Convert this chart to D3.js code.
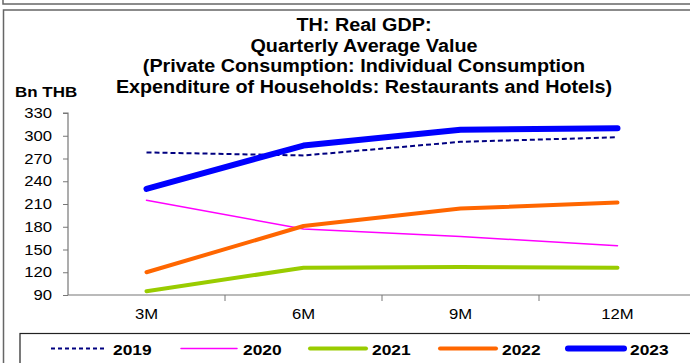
<!DOCTYPE html>
<html><head><meta charset="utf-8">
<script src="https://cdn.jsdelivr.net/npm/d3@7/dist/d3.min.js"></script>
<style>body{margin:0;background:#fff;}svg{display:block;font-family:"Liberation Sans",Arial,sans-serif;}</style>
</head><body>
<svg id="c" width="690" height="363"></svg>
<script>
const categories = ["3M","6M","9M","12M"];
const s2019 = [278, 274, 292, 298];
const s2020 = [215, 177, 167, 155];
const s2021 = [95, 126, 127, 126];
const s2022 = [120, 181, 204, 212];
const s2023 = [230, 287, 308, 310];
const yTicks = [90,120,150,180,210,240,270,300,330];
const titleLines = ["TH: Real GDP:","Quarterly Average Value","(Private Consumption: Individual Consumption","Expenditure of Households: Restaurants and Hotels)"];
const unitLabel = "Bn THB";

const series = [
  {name:"2019", values:s2019, color:"#000080", width:2, dash:"5,3"},
  {name:"2020", values:s2020, color:"#FF00FF", width:1.5, dash:null},
  {name:"2021", values:s2021, color:"#99CC00", width:4, dash:null},
  {name:"2022", values:s2022, color:"#FF6600", width:4, dash:null},
  {name:"2023", values:s2023, color:"#0000FF", width:6, dash:null}
];

const K = 1.15; // horizontal text stretch
function stretch(sel, k){
  sel.each(function(){
    const xa = this.getAttribute("x");
    const x = xa==null?0:+xa;
    this.setAttribute("x", x/k);
    this.setAttribute("transform", `scale(${k},1)`);
    d3.select(this).selectAll("tspan").each(function(){
      const tx = this.getAttribute("x");
      if(tx!=null) this.setAttribute("x", (+tx)/k);
    });
  });
}

const svg = d3.select("#c");
// frames
svg.append("rect").attr("x",3).attr("y",-10).attr("width",700).attr("height",14)
  .attr("fill","none").attr("stroke","#666").attr("stroke-width",1.5);
svg.append("rect").attr("x",3.5).attr("y",10).attr("width",700).attr("height",400)
  .attr("fill","none").attr("stroke","#666").attr("stroke-width",1.5);

const x0 = 68, plotTop = 113, plotBottom = 295, bw = 157;
const x = d3.scaleBand().domain(categories).range([x0, x0 + 4*bw]);
const y = d3.scaleLinear().domain([90,330]).range([plotBottom, plotTop]);

// title
const t = svg.append("text").attr("text-anchor","middle").attr("font-weight","bold").attr("font-size",17.5).attr("fill","#000");
titleLines.forEach((l,i)=>t.append("tspan").attr("x",364).attr("y",31+i*20.7).text(l));
stretch(t, 1.13);
const u = svg.append("text").attr("x",15).attr("y",97).attr("font-weight","bold").attr("font-size",15).text(unitLabel);
stretch(u, 1.13);

// y axis
const ya = svg.append("g").attr("transform",`translate(${x0},0)`)
  .call(d3.axisLeft(y).tickValues(yTicks).tickSize(5).tickPadding(11).tickFormat(d3.format("d")));
ya.select(".domain").attr("stroke","#777").attr("stroke-width",1.2).attr("d",`M-5,${plotTop}H0V${plotBottom}`);
ya.selectAll(".tick line").attr("stroke","#777");
ya.selectAll("text").attr("font-size",14.5).attr("font-family","Liberation Sans, Arial, sans-serif").attr("fill","#000");
stretch(ya.selectAll("text"), K);

// x axis
const xa = svg.append("g").attr("transform",`translate(0,${plotBottom})`)
  .call(d3.axisBottom(x).tickSize(0).tickPadding(14));
xa.select(".domain").attr("stroke","#777").attr("stroke-width",1.2).attr("d",`M${x0},0H${x0+4*bw}`);
xa.selectAll("text").attr("font-size",14.5).attr("font-family","Liberation Sans, Arial, sans-serif").attr("fill","#000");
stretch(xa.selectAll("text"), K);
xa.selectAll(".bt").data(categories.slice(1)).enter().append("line")
  .attr("x1",d=>x(d)).attr("x2",d=>x(d)).attr("y1",0).attr("y2",6).attr("stroke","#777");

// lines
const line = d3.line().x((d,i)=>x(categories[i])+x.bandwidth()/2).y(d=>y(d));
series.forEach(s=>{
  svg.append("path").datum(s.values).attr("d",line).attr("fill","none")
    .attr("stroke",s.color).attr("stroke-width",s.width)
    .attr("stroke-dasharray",s.dash).attr("stroke-linecap",s.dash?"butt":"round").attr("stroke-linejoin","round");
});

// legend
svg.append("rect").attr("x",20).attr("y",333.5).attr("width",700).attr("height",60)
  .attr("fill","none").attr("stroke","#222").attr("stroke-width",1.2);
const legX = [51,181,310,440,568];
series.forEach((s,i)=>{
  const g = svg.append("g");
  g.append("line").attr("x1",legX[i]).attr("x2",legX[i]+56).attr("y1",348.5).attr("y2",348.5)
    .attr("stroke",s.color).attr("stroke-width",s.width)
    .attr("stroke-dasharray",s.dash?"4,3":null).attr("stroke-linecap",s.dash?"butt":"round");
  const tx = g.append("text").attr("x",legX[i]+62).attr("y",355).attr("font-weight","bold").attr("font-size",15.5).text(s.name);
  stretch(tx, 1.12);
});
</script>
</body></html>
